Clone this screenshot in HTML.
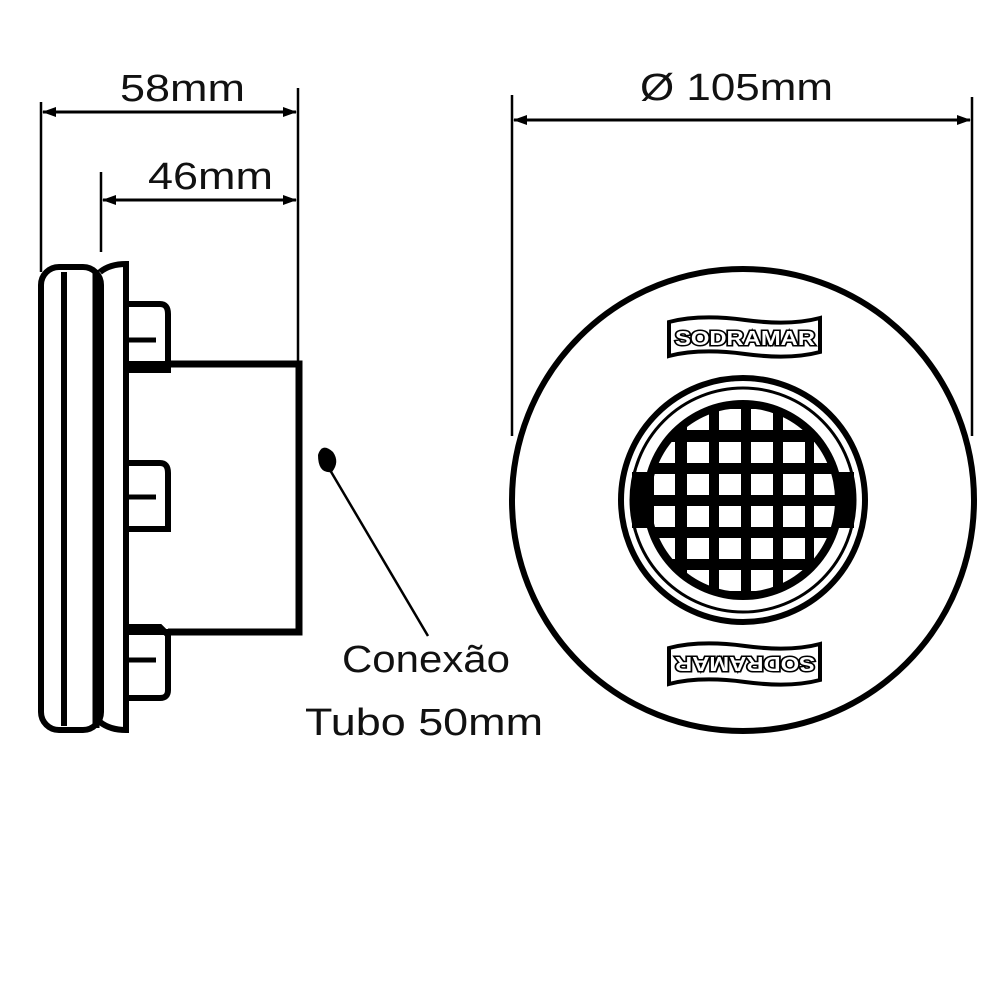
<!DOCTYPE html>
<html><head><meta charset="utf-8"><style>html,body{margin:0;padding:0;background:#fff}svg{display:block}</style></head>
<body>
<svg width="1000" height="1000" viewBox="0 0 1000 1000" xmlns="http://www.w3.org/2000/svg">
<defs>
<marker id="a" markerWidth="14" markerHeight="10" refX="13" refY="5" orient="auto-start-reverse" markerUnits="userSpaceOnUse"><path d="M0,0 L14,5 L0,10 Z" fill="#000"/></marker>
<clipPath id="gc"><circle cx="743" cy="500" r="92"/></clipPath>
</defs>
<g font-family="Liberation Sans, sans-serif" fill="#111">
<text x="120" y="101" font-size="38" textLength="125" lengthAdjust="spacingAndGlyphs">58mm</text>
<text x="148" y="189" font-size="38" textLength="125" lengthAdjust="spacingAndGlyphs">46mm</text>
<text x="640" y="100" font-size="38" textLength="193" lengthAdjust="spacingAndGlyphs">Ø 105mm</text>
<text x="342" y="672" font-size="38" textLength="168" lengthAdjust="spacingAndGlyphs">Conexão</text>
<text x="305" y="735" font-size="38" textLength="238" lengthAdjust="spacingAndGlyphs">Tubo 50mm</text>
</g>
<g stroke="#000" fill="none">
<line x1="41" y1="102" x2="41" y2="272" stroke-width="2.5"/>
<line x1="298" y1="88" x2="298" y2="362" stroke-width="2.5"/>
<line x1="43" y1="112" x2="296" y2="112" stroke-width="3" marker-start="url(#a)" marker-end="url(#a)"/>
<line x1="101" y1="172" x2="101" y2="252" stroke-width="2.5"/>
<line x1="103" y1="200" x2="296" y2="200" stroke-width="3" marker-start="url(#a)" marker-end="url(#a)"/>
<line x1="512" y1="95" x2="512" y2="436" stroke-width="2.5"/>
<line x1="972" y1="97" x2="972" y2="436" stroke-width="2.5"/>
<line x1="514" y1="120" x2="970" y2="120" stroke-width="3" marker-start="url(#a)" marker-end="url(#a)"/>
<rect x="41" y="267" width="60" height="463" rx="18" stroke-width="6"/>
<line x1="64" y1="272" x2="64" y2="726" stroke-width="6"/>
<line x1="96" y1="270" x2="96" y2="728" stroke-width="7"/>
<path d="M100,272 Q110,264 126,264 L126,730 Q110,730 100,722" stroke-width="6"/>
<path d="M126,304 L160,304 Q168,304 168,314 L168,370 L126,370" stroke-width="6"/>
<line x1="126" y1="340" x2="156" y2="340" stroke-width="5"/>
<path d="M126,463 L160,463 Q168,463 168,473 L168,529 L126,529" stroke-width="6"/>
<line x1="126" y1="497" x2="156" y2="497" stroke-width="5"/>
<path d="M126,627 L160,627 L168,635 L168,690 Q168,698 160,698 L126,698" stroke-width="6"/>
<line x1="126" y1="660" x2="156" y2="660" stroke-width="5"/>
<path d="M168,364 L299,364 L299,632 L168,632" stroke-width="7"/>
<line x1="128" y1="364" x2="168" y2="364" stroke-width="6"/>
<line x1="128" y1="632" x2="168" y2="632" stroke-width="6"/>
<line x1="330" y1="470" x2="428" y2="636" stroke-width="2.5"/>
<circle cx="743" cy="500" r="231" stroke-width="6"/>
<circle cx="743" cy="500" r="122" stroke-width="6"/>
<circle cx="743" cy="500" r="112" stroke-width="3"/>
</g>
<path d="M318,455 Q322,442 333,452 Q340,462 332,472 Q318,474 318,455 Z" fill="#000"/>
<circle cx="743" cy="500" r="100" fill="#000"/>
<rect x="632" y="472" width="222" height="56" fill="#000"/>
<g clip-path="url(#gc)" fill="#fff">
<g id="row">
<rect x="654" y="0" width="21" height="21"/><rect x="687" y="0" width="22" height="21"/><rect x="719" y="0" width="22" height="21"/><rect x="751" y="0" width="22" height="21"/><rect x="783" y="0" width="22" height="21"/><rect x="814" y="0" width="21" height="21"/>
</g>
<use href="#row" y="409"/><use href="#row" y="442"/><use href="#row" y="474"/><use href="#row" y="506"/><use href="#row" y="538"/><use href="#row" y="570"/>
</g>
<g>
<path d="M669,322 Q700,314 745,320 Q790,326 820,318 L820,352 Q790,360 745,354 Q700,348 669,356 Z" fill="#fff" stroke="#000" stroke-width="4"/>
<text x="745" y="345" font-family="Liberation Sans, sans-serif" font-weight="bold" font-size="20" text-anchor="middle" fill="#fff" stroke="#000" stroke-width="3" paint-order="stroke" textLength="140" lengthAdjust="spacingAndGlyphs">SODRAMAR</text>
<path d="M669,648 Q700,640 745,646 Q790,652 820,644 L820,680 Q790,688 745,682 Q700,676 669,684 Z" fill="#fff" stroke="#000" stroke-width="4"/>
<text transform="rotate(180 745 665)" x="745" y="673" font-family="Liberation Sans, sans-serif" font-weight="bold" font-size="20" text-anchor="middle" fill="#fff" stroke="#000" stroke-width="3" paint-order="stroke" textLength="140" lengthAdjust="spacingAndGlyphs">SODRAMAR</text>
</g>
</svg>
</body></html>
